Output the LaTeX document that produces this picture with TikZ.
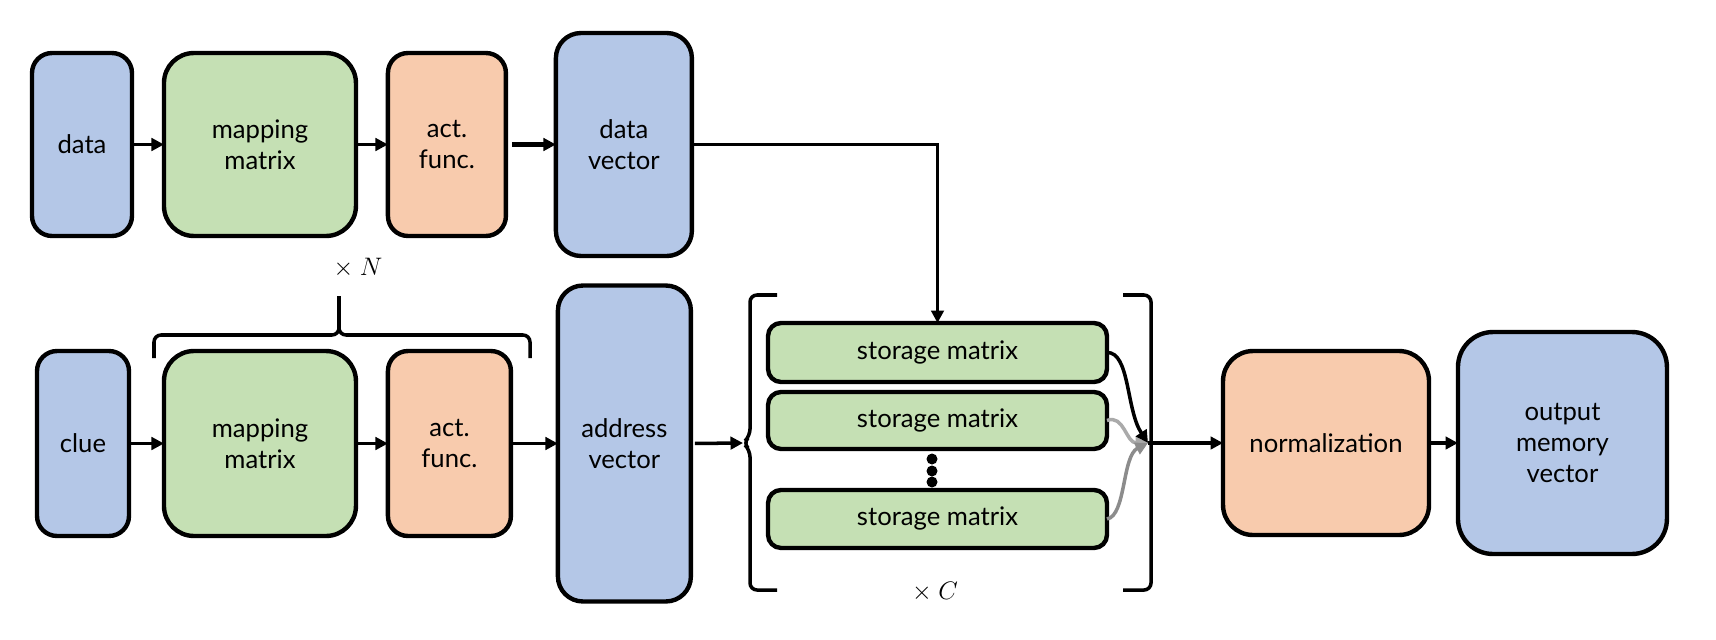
\documentclass[tikz,border=0pt]{standalone}
\usepackage{fontspec}
\setmainfont{Lato}
\usetikzlibrary{positioning,arrows.meta,calc}
\definecolor{boxBlue}{HTML}{B4C7E7}
\definecolor{boxGreen}{HTML}{C5E0B4}
\definecolor{boxOrange}{HTML}{F8CBAD}
\definecolor{lineGray}{HTML}{8C8C8C}
\definecolor{lineLightGray}{HTML}{AAAAAA}

\begin{document}
\begin{tikzpicture}[x=0.02cm,y=-0.02cm,every text node part/.style={align=center}]
\tikzset{myFont/.style={font=\fontsize{14.6}{17.6}\selectfont}}
\tikzset{myBox/.style={draw,line width=2.5pt,rounded corners=0.4cm,outer sep=0pt,inner sep=0pt,myFont}}
\tikzset{myBlue/.style={fill=boxBlue},myGreen/.style={fill=boxGreen},myOrange/.style={fill=boxOrange}}
\tikzset{myArrow/.style={line width=2pt,-{Triangle[length=0.25cm,width=0.25cm]}}}
\tikzset{myBracket/.style={line width=2pt,rounded corners=0.14cm}}

\useasboundingbox (0,0) rectangle (1716,639);

% data branch
\node[myBox,myBlue,minimum width=2cm,minimum height=3.66cm] (data) at (82,144.5) {data};
\node[myBox,myGreen,rounded corners=0.6cm,minimum width=3.84cm,minimum height=3.66cm,right=0.64cm of data] (map1) {mapping\\matrix};
\node[myBox,myOrange,minimum width=2.36cm,minimum height=3.66cm,right=0.64cm of map1] (act1) {act.\\func.};
\node[myBox,myBlue,rounded corners=0.5cm,minimum width=2.72cm,minimum height=4.46cm,right=1cm of act1] (dvec) {data\\vector};

% clue branch
\node[myBox,myBlue,minimum width=1.84cm,minimum height=3.7cm] (clue) at (83,443.5) {clue};
\node[myBox,myGreen,rounded corners=0.6cm,minimum width=3.84cm,minimum height=3.7cm] (map2) at (map1 |- clue) {mapping\\matrix};
\node[myBox,myOrange,minimum width=2.46cm,minimum height=3.7cm,right=0.64cm of map2] (act2) {act.\\func.};
\node[myBox,myBlue,rounded corners=0.5cm,minimum width=2.66cm,minimum height=6.32cm,right=0.94cm of act2] (addr) {address\\vector};

% storage
\node[myBox,myGreen,rounded corners=0.26cm,minimum width=6.78cm,minimum height=1.18cm] (s1) at (937.5,352.5) {storage matrix};
\node[myBox,myGreen,rounded corners=0.26cm,minimum width=6.78cm,minimum height=1.14cm,below=0.2cm of s1] (s2) {storage matrix};
\node[myBox,myGreen,rounded corners=0.26cm,minimum width=6.78cm,minimum height=1.16cm,below=0.82cm of s2] (s3) {storage matrix};
\foreach \yy in {459,471,482} \fill (932,\yy) circle[radius=0.11cm];

\node[myBox,myOrange,rounded corners=0.6cm,minimum width=4.12cm,minimum height=3.68cm] (norm) at (1326,443) {normalization};
\node[myBox,myBlue,rounded corners=0.7cm,minimum width=4.18cm,minimum height=4.44cm,right=0.58cm of norm] (out) {output\\memory\\vector};

% brackets
\coordinate (notch) at (743,443);
\coordinate (merge) at (1148,443);
\draw[myBracket] (777,295) -- (750,295) -- (750,436) -- (notch) -- (750,450) -- (750,590) -- (777,590);
\draw[myBracket] (1123,295) -- (1151,295) -- (1151,590) -- (1123,590);
\draw[myBracket] (154,358) -- (154,335) -- (339,335) -- (339,296);
\draw[myBracket] (530,358) -- (530,335) -- (339,335) -- (339,296);
\node[myFont] (timesN) at (358,268) {$\times$ $N$};
\node[myFont] (timesC) at (935,592) {$\times$ $C$};

% arrows
\draw[myArrow] (data) -- (map1);
\draw[myArrow] (map1) -- (act1);
\draw[myArrow,line width=2.6pt,shorten <=0.12cm] (act1) -- (dvec);
\draw[myArrow] (dvec.east) -| (s1.north);
\draw[myArrow] (clue) -- (map2);
\draw[myArrow] (map2) -- (act2);
\draw[myArrow] (act2) -- (addr);
\draw[myArrow,shorten <=0.08cm] (addr.east) -- (notch);
\draw[myArrow,lineLightGray] (s2.east) .. controls (1124,414) and (1126,443) .. (merge);
\draw[myArrow,lineGray] (s3.east) .. controls (1126,516) and (1122,456) .. (merge);
\draw[myArrow] (s1.east) .. controls (1130,352) and (1126,410) .. (merge);
\draw[myArrow] (merge) -- (norm.west);
\draw[myArrow] (norm) -- (out);
\end{tikzpicture}
\end{document}
